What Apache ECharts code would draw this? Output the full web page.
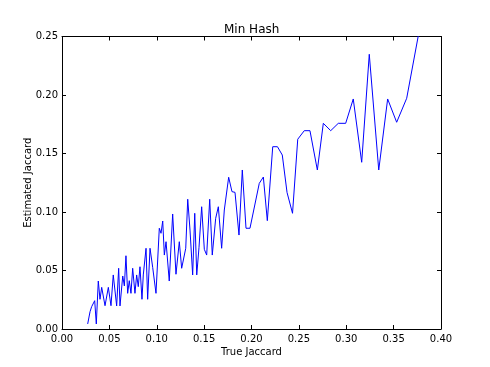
<!DOCTYPE html>
<html>
<head>
<meta charset="utf-8">
<script src="https://cdn.jsdelivr.net/npm/echarts@6/dist/echarts.min.js"></script>
<style>
html,body{margin:0;padding:0;background:#fff;}
#chart{width:490px;height:367px;}
</style>
</head>
<body>
<div id="chart"></div>
<script>
var trueJaccard = [0.0271,0.0296,0.0313,0.0330,0.0345,0.0362,0.0383,0.0401,0.0419,0.0454,
0.0489,0.0517,0.0541,0.0577,0.0598,0.0612,0.0641,0.0658,0.0675,0.0693,
0.0710,0.0728,0.0746,0.0770,0.0788,0.0805,0.0823,0.0844,0.0858,0.0887,
0.0904,0.0929,0.0957,0.0992,0.1027,0.1045,0.1063,0.1080,0.1098,0.1132,
0.1168,0.1203,0.1238,0.1263,0.1280,0.1306,0.1327,0.1351,0.1379,0.1401,
0.1422,0.1446,0.1474,0.1502,0.1527,0.1559,0.1586,0.1622,0.1650,0.1685,
0.1713,0.1759,0.1794,0.1826,0.1868,0.1903,0.1942,0.1984,0.2082,0.2125,
0.2167,0.2224,0.2274,0.2325,0.2375,0.2433,0.2488,0.2557,0.2617,0.2695,
0.2758,0.2836,0.2916,0.2994,0.3074,0.3163,0.3243,0.3343,0.3437,0.3532,
0.3638,0.3800];
var estimatedJaccard = [0.0043,0.0148,0.0191,0.0197,0.0242,0.0043,0.0410,0.0254,0.0356,0.0199,
0.0356,0.0199,0.0462,0.0197,0.0519,0.0197,0.0453,0.0368,0.0626,0.0305,
0.0413,0.0305,0.0519,0.0305,0.0462,0.0362,0.0532,0.0254,0.0462,0.0690,
0.0254,0.0690,0.0527,0.0305,0.0861,0.0818,0.0923,0.0632,0.0746,0.0410,
0.0983,0.0468,0.0746,0.0519,0.0519,0.0690,0.1109,0.0846,0.0462,0.0989,
0.0462,0.0698,0.1045,0.0681,0.0632,0.1109,0.0632,0.0946,0.1045,0.0690,
0.1017,0.1297,0.1174,0.1168,0.0803,0.1359,0.0861,0.0861,0.1245,0.1299,
0.0926,0.1558,0.1558,0.1487,0.1167,0.0989,0.1622,0.1695,0.1695,0.1359,
0.1758,0.1695,0.1758,0.1758,0.1966,0.1425,0.2348,0.1359,0.1966,0.1767,
0.1972,0.2680];
var xTicks = [0.00,0.05,0.10,0.15,0.20,0.25,0.30,0.35,0.40];
var yTicks = [0.00,0.05,0.10,0.15,0.20,0.25];

var pts = trueJaccard.map(function(x,i){return [x, estimatedJaccard[i]];});
var font = 'DejaVu Sans';
var axisLine = {show:true, onZero:false, lineStyle:{color:'#000', width:1}};
var tick = {show:true, inside:true, length:4, lineStyle:{color:'#000', width:1}};
function fmt(v){return v.toFixed(2);}

var chart = echarts.init(document.getElementById('chart'), null, {renderer:'canvas'});
chart.setOption({
  animation:false,
  backgroundColor:'#fff',
  title:{text:'Min Hash', left:219, top:19,
    textStyle:{fontFamily:font, fontSize:12, fontWeight:'normal', color:'#000'}},
  grid:{left:62, top:36.5, width:379, height:292.5, containLabel:false},
  xAxis:[{
    type:'value', min:xTicks[0], max:xTicks[xTicks.length-1], interval:0.05,
    name:'True Jaccard', nameLocation:'middle', nameGap:18, nameMoveOverlap:false,
    nameTextStyle:{fontFamily:font, fontSize:10, color:'#000'},
    axisLine:axisLine, axisTick:tick, splitLine:{show:false},
    axisLabel:{fontFamily:font, fontSize:10, color:'#000', margin:5, formatter:fmt}
  },{
    type:'value', position:'top', min:xTicks[0], max:xTicks[xTicks.length-1], interval:0.05,
    axisLine:axisLine, axisTick:tick, splitLine:{show:false}, axisLabel:{show:false}
  }],
  yAxis:[{
    type:'value', min:yTicks[0], max:yTicks[yTicks.length-1], interval:0.05,
    name:'Estimated Jaccard', nameLocation:'middle', nameGap:29, nameMoveOverlap:false,
    nameTextStyle:{fontFamily:font, fontSize:10, color:'#000'},
    axisLine:axisLine, axisTick:tick, splitLine:{show:false},
    axisLabel:{fontFamily:font, fontSize:10, color:'#000', margin:4, formatter:fmt}
  },{
    type:'value', position:'right', min:yTicks[0], max:yTicks[yTicks.length-1], interval:0.05,
    axisLine:axisLine, axisTick:tick, splitLine:{show:false}, axisLabel:{show:false}
  }],
  series:[{
    type:'line', data:pts, xAxisIndex:0, yAxisIndex:0,
    showSymbol:false, symbol:'none', clip:true,
    lineStyle:{color:'#0000ff', width:1}
  }]
});
</script>
</body>
</html>
